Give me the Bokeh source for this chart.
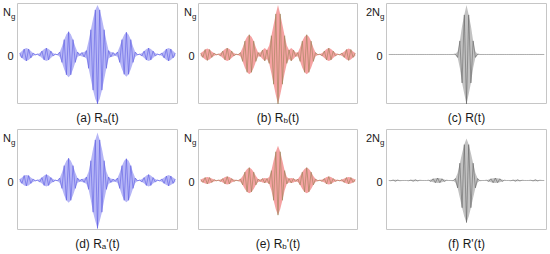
from bokeh.plotting import figure
from bokeh.layouts import gridplot
from bokeh.models import Label, Range1d, ColumnDataSource
from bokeh.embed import file_html
from bokeh.resources import INLINE

# carrier sample index (lag) across each panel
lags = list(range(-35, 36))

# envelope of each correlation trace (units of N_g), lag -35 .. 35
env_a = [0.03, 0.07, 0.11, 0.13, 0.11, 0.07, 0.03, 0.01, 0.01, 0.03, 0.07, 0.11, 0.13, 0.11, 0.07, 0.03,
         0.01, 0.01, 0.05, 0.16, 0.30, 0.41, 0.46, 0.41, 0.30, 0.16, 0.05, 0.02, 0.04, 0.05, 0.08, 0.28,
         0.50, 0.72, 0.90, 1.00, 0.90, 0.72, 0.50, 0.28, 0.08, 0.05, 0.04, 0.02, 0.05, 0.16, 0.30, 0.40,
         0.45, 0.40, 0.30, 0.16, 0.05, 0.01, 0.01, 0.03, 0.07, 0.11, 0.13, 0.11, 0.07, 0.03, 0.01, 0.01,
         0.03, 0.07, 0.11, 0.13, 0.11, 0.07, 0.03]
env_b = [0.03, 0.06, 0.10, 0.12, 0.10, 0.06, 0.03, 0.01, 0.01, 0.03, 0.07, 0.11, 0.13, 0.11, 0.07, 0.03,
         0.01, 0.01, 0.04, 0.14, 0.27, 0.36, 0.40, 0.36, 0.27, 0.14, 0.04, 0.04, 0.09, 0.13, 0.09, 0.18,
         0.38, 0.60, 0.82, 1.00, 0.82, 0.60, 0.38, 0.18, 0.09, 0.13, 0.09, 0.04, 0.04, 0.14, 0.27, 0.36,
         0.40, 0.36, 0.27, 0.14, 0.04, 0.01, 0.01, 0.03, 0.07, 0.11, 0.13, 0.11, 0.07, 0.03, 0.01, 0.01,
         0.03, 0.06, 0.10, 0.12, 0.10, 0.06, 0.03]
env_c = [0.0, 0.0, 0.0, 0.0, 0.0, 0.0, 0.0, 0.0, 0.0, 0.0, 0.0, 0.0, 0.0, 0.0, 0.0, 0.0,
         0.0, 0.0, 0.0, 0.0, 0.0, 0.0, 0.0, 0.0, 0.0, 0.0, 0.0, 0.0, 0.0, 0.0, 0.02, 0.12,
         0.55, 1.15, 1.60, 2.00, 1.60, 1.15, 0.55, 0.12, 0.02, 0.0, 0.0, 0.0, 0.0, 0.0, 0.0, 0.0,
         0.0, 0.0, 0.0, 0.0, 0.0, 0.0, 0.0, 0.0, 0.0, 0.0, 0.0, 0.0, 0.0, 0.0, 0.0, 0.0,
         0.0, 0.0, 0.0, 0.0, 0.0, 0.0, 0.0]
env_d = [0.03, 0.06, 0.10, 0.11, 0.10, 0.06, 0.03, 0.01, 0.01, 0.03, 0.06, 0.10, 0.12, 0.10, 0.06, 0.03,
         0.01, 0.01, 0.05, 0.16, 0.30, 0.40, 0.45, 0.40, 0.30, 0.16, 0.05, 0.02, 0.03, 0.04, 0.07, 0.18,
         0.40, 0.64, 0.82, 0.97, 0.82, 0.64, 0.40, 0.18, 0.07, 0.04, 0.03, 0.02, 0.05, 0.16, 0.30, 0.40,
         0.44, 0.40, 0.30, 0.16, 0.05, 0.01, 0.01, 0.03, 0.06, 0.10, 0.12, 0.10, 0.06, 0.03, 0.01, 0.01,
         0.03, 0.06, 0.09, 0.11, 0.09, 0.06, 0.03]
env_e = [0.02, 0.04, 0.06, 0.07, 0.06, 0.04, 0.02, 0.01, 0.01, 0.02, 0.04, 0.07, 0.08, 0.07, 0.04, 0.02,
         0.01, 0.01, 0.03, 0.09, 0.17, 0.23, 0.26, 0.23, 0.17, 0.09, 0.03, 0.02, 0.04, 0.05, 0.04, 0.07,
         0.20, 0.40, 0.58, 0.70, 0.58, 0.40, 0.20, 0.07, 0.04, 0.05, 0.04, 0.02, 0.03, 0.09, 0.17, 0.23,
         0.26, 0.23, 0.17, 0.09, 0.03, 0.01, 0.01, 0.02, 0.04, 0.07, 0.08, 0.07, 0.04, 0.02, 0.01, 0.01,
         0.02, 0.04, 0.06, 0.07, 0.06, 0.04, 0.02]
env_f = [0.0, 0.01, 0.02, 0.03, 0.02, 0.01, 0.0, 0.0, 0.0, 0.01, 0.02, 0.03, 0.03, 0.02, 0.01, 0.0,
         0.0, 0.0, 0.01, 0.04, 0.07, 0.09, 0.10, 0.09, 0.07, 0.04, 0.01, 0.0, 0.0, 0.01, 0.08, 0.30,
         0.70, 1.10, 1.45, 1.70, 1.45, 1.10, 0.70, 0.30, 0.08, 0.01, 0.0, 0.0, 0.01, 0.04, 0.07, 0.09,
         0.10, 0.09, 0.07, 0.04, 0.01, 0.0, 0.0, 0.01, 0.02, 0.03, 0.03, 0.02, 0.01, 0.0, 0.0, 0.0,
         0.01, 0.02, 0.03, 0.02, 0.01, 0.0, 0.0]

# panel captions: (prefix, subscript, suffix)
captions = [("(a) R", "a", "(t)"), ("(b) R", "b", "(t)"), ("(c) R", "", "(t)"),
            ("(d) R", "a", "'(t)"), ("(e) R", "b", "'(t)"), ("(f) R", "", "'(t)")]
peak_labels = ["N", "N", "2N", "N", "N", "2N"]
peak_values = [1, 1, 2, 1, 1, 2]

FONT = "Liberation Sans"
TXT = "#1a1a1a"
W = {'(': .333, ')': .333, 'a': .556, 'b': .556, 'c': .5, 'd': .556, 'e': .556, 'f': .278,
     ' ': .278, 'R': .722, 't': .278, "'": .191, 'N': .722, 'g': .556, '2': .556, '0': .556}


def tw(s, size):
    return sum(W.get(ch, .556) for ch in s) * size


styles = [("#b6b6f6", "#4f4fe0", 0.85), ("#f5a2a2", "#8a7c4a", 0.85), ("#c2c2c2", "#4a4a4a", 0.75),
          ("#b6b6f6", "#4f4fe0", 0.85), ("#f5a2a2", "#8a7c4a", 0.85), ("#c2c2c2", "#4a4a4a", 0.75)]
envs = [env_a, env_b, env_c, env_d, env_e, env_f]

# layout in pixels: (left border, box width, right border) per column; (top, box height, bottom) per row
cols = [(17, 160, 4), (17, 159, 4), (25, 160, 4)]
rows = [(3, 100, 23), (3, 100, 24)]
T0, T1 = -36.0, 36.0

figs = []
for i in range(6):
    r, c = divmod(i, 3)
    bl, bw, br = cols[c]
    bt, bh, bb = rows[r]
    top_v = 1.03 * peak_values[i]
    bot_v = -0.99 * peak_values[i]
    ux = bw / (T1 - T0)
    uy = bh / (top_v - bot_v)
    p = figure(width=bl + bw + br, height=bt + bh + bb, x_axis_type=None, y_axis_type=None,
               x_range=Range1d(T0 - bl / ux, T1 + br / ux),
               y_range=Range1d(bot_v - bb / uy, top_v + bt / uy),
               toolbar_location=None, output_backend="svg", title=None,
               min_border_left=0, min_border_right=0, min_border_top=0, min_border_bottom=0)
    p.outline_line_color = None
    p.background_fill_color = "white"
    p.border_fill_color = "white"
    # panel box
    p.quad(left=[T0], right=[T1], bottom=[bot_v], top=[top_v], fill_color=None,
           line_color="#c6c6c6", line_width=1)
    env = envs[i]
    sig = [e if k % 2 == 0 else -e for k, e in enumerate(env)]
    src = ColumnDataSource(dict(t=lags, hi=env, lo=[-e for e in env], sig=sig))
    fill, line, la = styles[i]
    p.varea(x="t", y1="lo", y2="hi", source=src, fill_color=fill, fill_alpha=1.0)
    p.line(x="t", y="sig", source=src, line_color=line, line_width=0.6, line_alpha=la)

    # y labels
    p.add_layout(Label(x=T0, y=0, text="0", text_align="right", text_baseline="middle",
                       x_offset=-4, y_offset=-2, text_font=FONT, text_font_size="11px",
                       text_color=TXT))
    gw = tw("g", 8)
    p.add_layout(Label(x=T0, y=top_v, text=peak_labels[i], text_align="right",
                       text_baseline="middle", x_offset=-2 - gw, y_offset=-8,
                       text_font=FONT, text_font_size="11px", text_color=TXT))
    p.add_layout(Label(x=T0, y=top_v, text="g", text_align="left",
                       text_baseline="middle", x_offset=-2 - gw, y_offset=-13,
                       text_font=FONT, text_font_size="8px", text_color=TXT))
    # caption
    pre, sub, suf = captions[i]
    total = tw(pre, 12) + tw(sub, 8) + tw(suf, 12)
    x0 = -total / 2
    p.add_layout(Label(x=0, y=bot_v, text=pre, text_align="left", text_baseline="middle",
                       x_offset=x0, y_offset=-14, text_font=FONT, text_font_size="12px",
                       text_color=TXT))
    x1 = x0 + tw(pre, 12)
    if sub:
        p.add_layout(Label(x=0, y=bot_v, text=sub, text_align="left", text_baseline="middle",
                           x_offset=x1, y_offset=-17, text_font=FONT, text_font_size="8px",
                           text_color=TXT))
        x1 += tw(sub, 8)
    p.add_layout(Label(x=0, y=bot_v, text=suf, text_align="left", text_baseline="middle",
                       x_offset=x1, y_offset=-14, text_font=FONT, text_font_size="12px",
                       text_color=TXT))
    figs.append(p)

grid = gridplot([figs[:3], figs[3:]], toolbar_location=None)
open("out.html", "w").write(file_html(grid, INLINE))
